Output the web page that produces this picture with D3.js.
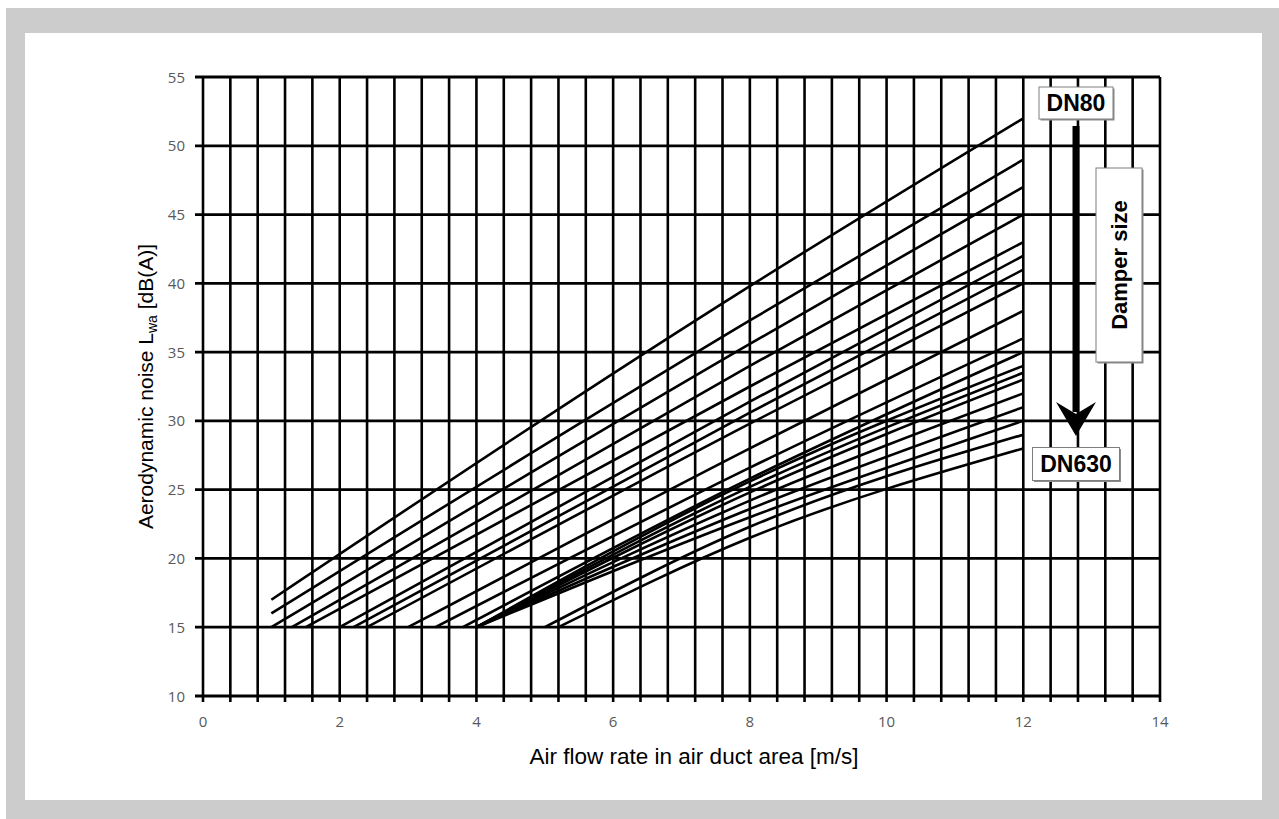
<!DOCTYPE html>
<html>
<head>
<meta charset="utf-8">
<script src="https://cdn.jsdelivr.net/npm/d3@7"></script>
<style>
  body { margin: 0; background: #fff; }
  svg { display: block; }
</style>
</head>
<body>
<svg id="chart" width="1279" height="819"></svg>
<script>
// damper curves, DN80 (top) down to DN630 (bottom)
// each curve: start point (where it leaves 15 dB), a point at 8 m/s, end at 12 m/s
const startX = [1.0, 1.0, 1.0, 1.3, 1.5, 2.0, 2.2, 2.4, 3.0, 3.4, 3.8, 4.0, 4.0, 4.0, 4.0, 4.0, 4.0, 5.0, 5.2];
const startY = [17, 16, 15, 15, 15, 15, 15, 15, 15, 15, 15, 15, 15, 15, 15, 15, 15, 15, 15];
const midX = 8;
const midY = [39.8, 37.3, 35.6, 34, 32.5, 31.4, 30.6, 29.8, 28, 26.6, 25.8, 25.6, 25.2, 24.8, 24.2, 23.6, 23.0, 22.3, 21.5];
const endX = 12;
const endY = [52, 49, 47, 45, 43, 42, 41, 40, 38, 36, 35, 34, 33.5, 33, 32, 31, 30, 29, 28];

const xTicks = [0, 2, 4, 6, 8, 10, 12, 14];
const yTicks = [10, 15, 20, 25, 30, 35, 40, 45, 50, 55];

const svg = d3.select('#chart');

// grey frame
svg.append('rect').attr('x', 6).attr('y', 8).attr('width', 1273).attr('height', 811).attr('fill', '#cccccc');
svg.append('rect').attr('x', 25).attr('y', 33).attr('width', 1237).attr('height', 767).attr('fill', '#ffffff');

const x = d3.scaleLinear().domain([0, 14]).range([203, 1160]);
const y = d3.scaleLinear().domain([10, 55]).range([696, 77]);

const grid = svg.append('g');
const vLines = d3.range(0, 36).map(i => i * 0.4);

grid.selectAll('.vgrid')
    .data(vLines)
    .enter()
    .append('line')
    .attr('x1', d => x(d))
    .attr('x2', d => x(d))
    .attr('y1', y(55))
    .attr('y2', y(10) + 6)
    .attr('stroke', '#000')
    .attr('stroke-width', 2.6);

grid.selectAll('.hgrid')
    .data(yTicks)
    .enter()
    .append('line')
    .attr('x1', x(0) - 8)
    .attr('x2', x(14))
    .attr('y1', d => y(d))
    .attr('y2', d => y(d))
    .attr('stroke', '#000')
    .attr('stroke-width', 2.8);

// tick labels
svg.selectAll('.xlab')
    .data(xTicks)
    .enter()
    .append('text')
    .attr('x', d => x(d))
    .attr('y', 727)
    .attr('text-anchor', 'middle')
    .attr('font-family', 'Open Sans, sans-serif')
    .attr('font-size', '15px')
    .attr('fill', '#595959')
    .text(d => d);

svg.selectAll('.ylab')
    .data(yTicks)
    .enter()
    .append('text')
    .attr('x', x(0) - 18)
    .attr('y', d => y(d) + 5.5)
    .attr('text-anchor', 'end')
    .attr('font-family', 'Open Sans, sans-serif')
    .attr('font-size', '15px')
    .attr('fill', '#595959')
    .text(d => d);

// axis titles
svg.append('text')
    .attr('x', 694)
    .attr('y', 764)
    .attr('text-anchor', 'middle')
    .attr('font-family', 'Liberation Sans, Arial, sans-serif')
    .attr('font-size', '22.5px')
    .attr('fill', '#000')
    .text('Air flow rate in air duct area [m/s]');

const yTitle = svg.append('text')
    .attr('transform', `translate(153,${y(32.5)}) rotate(-90)`)
    .attr('text-anchor', 'middle')
    .attr('font-family', 'Liberation Sans, Arial, sans-serif')
    .attr('font-size', '21px')
    .attr('fill', '#000');
yTitle.append('tspan').text('Aerodynamic noise L');
yTitle.append('tspan').attr('font-size', '14px').attr('dy', 4).text('wa');
yTitle.append('tspan').attr('dy', -4).text(' [dB(A)]');

// curves
const curves = startX.map((sx, i) => [[sx, startY[i]], [midX, midY[i]], [endX, endY[i]]]);
const line = d3.line().x(d => x(d[0])).y(d => y(d[1])).curve(d3.curveMonotoneX);

svg.append('g')
    .selectAll('path')
    .data(curves)
    .enter()
    .append('path')
    .attr('d', line)
    .attr('fill', 'none')
    .attr('stroke', '#000')
    .attr('stroke-width', 2.6);

// damper size arrow
const ax = 1076;
svg.append('line')
    .attr('x1', ax).attr('x2', ax)
    .attr('y1', 126).attr('y2', 412)
    .attr('stroke', '#000')
    .attr('stroke-width', 7);
svg.append('path')
    .attr('d', `M${ax - 20},402 L${ax},436 L${ax + 20},402 L${ax},414 Z`)
    .attr('fill', '#000');

function labelBox(cx, cy, w, h, txt, size, rotate) {
    const g = svg.append('g').attr('transform', `translate(${cx},${cy})`);
    g.append('rect')
        .attr('x', -w / 2 + 1.5).attr('y', -h / 2 + 1.5)
        .attr('width', w).attr('height', h)
        .attr('fill', '#8c8c8c');
    g.append('rect')
        .attr('x', -w / 2).attr('y', -h / 2)
        .attr('width', w).attr('height', h)
        .attr('fill', '#fff')
        .attr('stroke', '#7f7f7f')
        .attr('stroke-width', 1);
    g.append('text')
        .attr('transform', rotate ? 'rotate(-90)' : null)
        .attr('text-anchor', 'middle')
        .attr('dy', '0.36em')
        .attr('font-family', 'Liberation Sans, Arial, sans-serif')
        .attr('font-weight', 'bold')
        .attr('font-size', size + 'px')
        .attr('fill', '#000')
        .text(txt);
}

labelBox(1076, 103, 74, 32, 'DN80', 23, false);
labelBox(1119, 265, 46, 194, 'Damper size', 22, true);
labelBox(1076, 464, 87, 33, 'DN630', 23, false);
</script>
</body>
</html>
